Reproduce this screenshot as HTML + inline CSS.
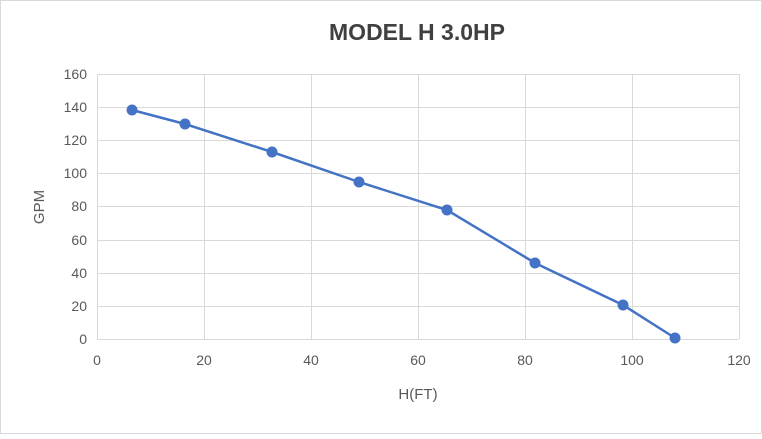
<!DOCTYPE html>
<html><head><style>
body{margin:0;background:#fff}
svg text{font-family:"Liberation Sans",sans-serif}
</style></head><body>
<svg width="762" height="434" xmlns="http://www.w3.org/2000/svg">
<rect x="0.5" y="0.5" width="761" height="433" fill="#fff" stroke="#d9d9d9"/>
<text x="417" y="40" text-anchor="middle" font-size="23" font-weight="bold" fill="#404040">MODEL H 3.0HP</text>
<g stroke="#d9d9d9" stroke-width="1">
<line x1="97" y1="74.5" x2="739" y2="74.5"/>
<line x1="97" y1="107.5" x2="739" y2="107.5"/>
<line x1="97" y1="140.5" x2="739" y2="140.5"/>
<line x1="97" y1="173.5" x2="739" y2="173.5"/>
<line x1="97" y1="206.5" x2="739" y2="206.5"/>
<line x1="97" y1="240.5" x2="739" y2="240.5"/>
<line x1="97" y1="273.5" x2="739" y2="273.5"/>
<line x1="97" y1="306.5" x2="739" y2="306.5"/>
<line x1="97" y1="339.5" x2="739" y2="339.5"/>
<line x1="97.5" y1="74" x2="97.5" y2="339"/>
<line x1="204.5" y1="74" x2="204.5" y2="339"/>
<line x1="311.5" y1="74" x2="311.5" y2="339"/>
<line x1="418.5" y1="74" x2="418.5" y2="339"/>
<line x1="525.5" y1="74" x2="525.5" y2="339"/>
<line x1="632.5" y1="74" x2="632.5" y2="339"/>
<line x1="739.5" y1="74" x2="739.5" y2="339"/>
</g>
<g font-size="14" fill="#595959" text-anchor="end">
<text x="87" y="79">160</text><text x="87" y="112">140</text><text x="87" y="145">120</text>
<text x="87" y="178">100</text><text x="87" y="211">80</text><text x="87" y="245">60</text>
<text x="87" y="278">40</text><text x="87" y="311">20</text><text x="87" y="344">0</text>
</g>
<g font-size="14" fill="#595959" text-anchor="middle">
<text x="97" y="365">0</text><text x="204" y="365">20</text><text x="311" y="365">40</text>
<text x="418" y="365">60</text><text x="525" y="365">80</text><text x="632" y="365">100</text><text x="739" y="365">120</text>
</g>
<text x="418" y="399" text-anchor="middle" font-size="15" fill="#595959">H(FT)</text>
<text transform="translate(44,207) rotate(-90)" text-anchor="middle" font-size="15" fill="#595959">GPM</text>
<polyline fill="none" stroke="#4472c4" stroke-width="2.5" points="132,110 185,124 272,152 359,182 447,210 535,263 623,305 675,338"/>
<g fill="#4472c4">
<circle cx="132" cy="110" r="5.5"/><circle cx="185" cy="124" r="5.5"/><circle cx="272" cy="152" r="5.5"/>
<circle cx="359" cy="182" r="5.5"/><circle cx="447" cy="210" r="5.5"/><circle cx="535" cy="263" r="5.5"/>
<circle cx="623" cy="305" r="5.5"/><circle cx="675" cy="338" r="5.5"/>
</g>
</svg>
</body></html>
